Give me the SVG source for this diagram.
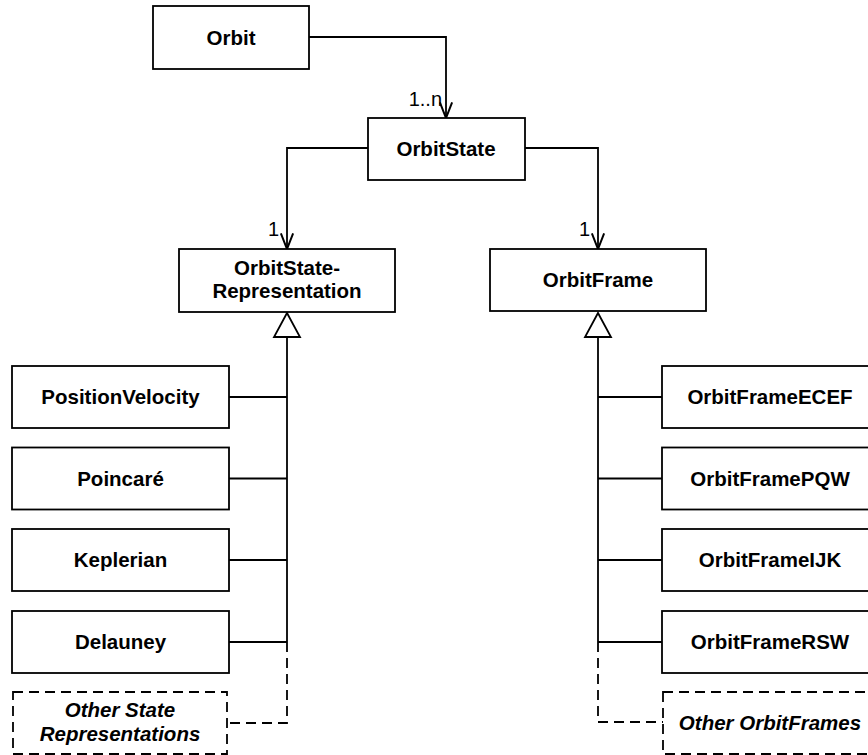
<svg xmlns="http://www.w3.org/2000/svg" width="868" height="755" viewBox="0 0 868 755">
<style>
.box{fill:#fff;stroke:#000;stroke-width:1.8}
.dbox{fill:#fff;stroke:#000;stroke-width:1.8;stroke-dasharray:10 6}
.t{font-family:"Liberation Sans",Arial,Helvetica,sans-serif;font-size:20.5px;font-weight:bold;text-anchor:middle;fill:#000}
.ti{font-family:"Liberation Sans",Arial,Helvetica,sans-serif;font-size:20.5px;font-weight:bold;font-style:italic;text-anchor:middle;fill:#000}
.lbl{font-family:"Liberation Sans",Arial,Helvetica,sans-serif;font-size:20px;text-anchor:end;fill:#000}
.ln{fill:none;stroke:#000;stroke-width:1.8}
.dl{fill:none;stroke:#000;stroke-width:1.8;stroke-dasharray:10 6}
</style>
<defs>
<marker id="open" markerUnits="userSpaceOnUse" markerWidth="20" markerHeight="20" viewBox="-16 -8 18 16" refX="0" refY="0" orient="auto" overflow="visible">
<path d="M-14,-5.5 L0,0 L-14,5.5" fill="none" stroke="#000" stroke-width="1.8"/>
</marker>
</defs>
<g id="connectors">
<path class="ln" d="M309,37 H446 V118" marker-end="url(#open)"/>
<path class="ln" d="M368,148 H287 V249" marker-end="url(#open)"/>
<path class="ln" d="M525,148 H598 V249" marker-end="url(#open)"/>
<text class="lbl" x="442" y="106">1..n</text>
<text class="lbl" x="279" y="236">1</text>
<text class="lbl" x="590" y="236">1</text>
<path class="ln" d="M287,337 V642"/>
<path class="ln" d="M229,397 H287 M229,478.5 H287 M229,560 H287 M229,642 H287"/>
<path class="dl" d="M287,642 V723 H227"/>
<polygon points="287,313 274,337 300,337" fill="#fff" stroke="#000" stroke-width="1.8"/>
<path class="ln" d="M598,337 V642"/>
<path class="ln" d="M598,397 H662 M598,478.5 H662 M598,560 H662 M598,642 H662"/>
<path class="dl" d="M598,642 V722 H663"/>
<polygon points="598,313 585,337 611,337" fill="#fff" stroke="#000" stroke-width="1.8"/>
</g>
<g id="orbit"><rect class="box" x="153" y="6" width="156" height="63"/><text class="t" x="231" y="44.5">Orbit</text></g>
<g id="orbitstate"><rect class="box" x="368" y="118" width="157" height="62"/><text class="t" x="446" y="156">OrbitState</text></g>
<g id="orbitstaterep"><rect class="box" x="179" y="249" width="216" height="63"/><text class="t" x="287" y="275">OrbitState-</text><text class="t" x="287" y="298">Representation</text></g>
<g id="orbitframe"><rect class="box" x="490" y="249" width="216" height="62"/><text class="t" x="598" y="287">OrbitFrame</text></g>
<g id="positionvelocity"><rect class="box" x="12" y="366" width="217" height="62"/><text class="t" x="120.5" y="404">PositionVelocity</text></g>
<g id="poincare"><rect class="box" x="12" y="447.5" width="217" height="62"/><text class="t" x="120.5" y="485.5">Poincaré</text></g>
<g id="keplerian"><rect class="box" x="12" y="529" width="217" height="62"/><text class="t" x="120.5" y="567">Keplerian</text></g>
<g id="delauney"><rect class="box" x="12" y="611" width="217" height="62"/><text class="t" x="120.5" y="649">Delauney</text></g>
<g id="otherstate"><rect class="dbox" x="13" y="692" width="214" height="62"/><text class="ti" x="120" y="717">Other State</text><text class="ti" x="120" y="741">Representations</text></g>
<g id="ecef"><rect class="box" x="662" y="366" width="216" height="62"/><text class="t" x="770" y="404">OrbitFrameECEF</text></g>
<g id="pqw"><rect class="box" x="662" y="447.5" width="216" height="62"/><text class="t" x="770" y="485.5">OrbitFramePQW</text></g>
<g id="ijk"><rect class="box" x="662" y="529" width="216" height="62"/><text class="t" x="770" y="567">OrbitFrameIJK</text></g>
<g id="rsw"><rect class="box" x="662" y="611" width="216" height="62"/><text class="t" x="770" y="649">OrbitFrameRSW</text></g>
<g id="otherframes"><rect class="dbox" x="663" y="692" width="215" height="62"/><text class="ti" x="770" y="730">Other OrbitFrames</text></g>
</svg>
